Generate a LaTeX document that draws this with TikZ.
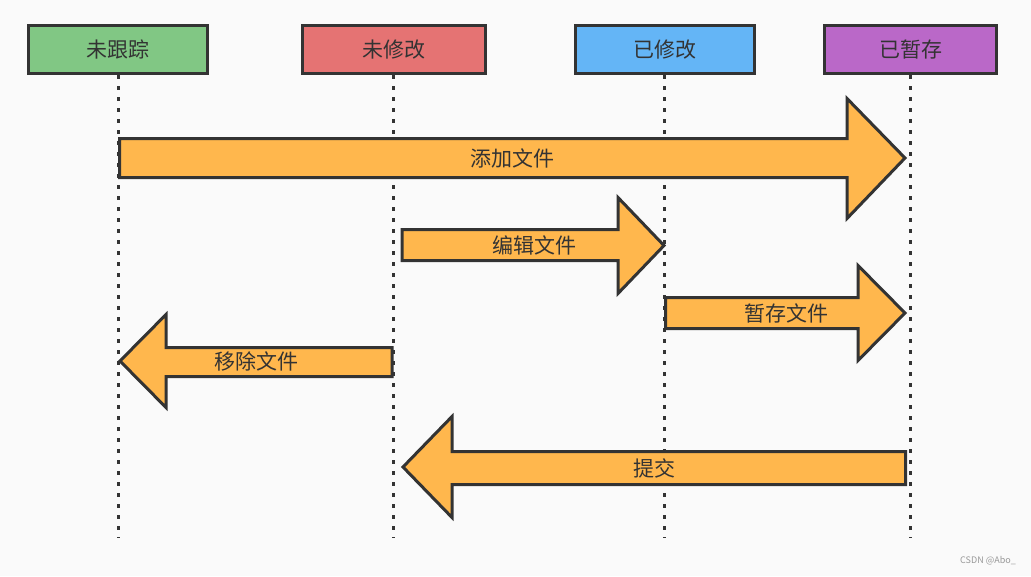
\documentclass[tikz,border=0pt]{standalone}
\usepackage{fontspec}
\setmainfont{Noto Sans CJK SC}
\definecolor{bg}{HTML}{FAFAFA}
\definecolor{edge}{HTML}{333333}
\definecolor{cgreen}{HTML}{81C784}
\definecolor{cred}{HTML}{E57373}
\definecolor{cblue}{HTML}{64B5F6}
\definecolor{cpurple}{HTML}{BA68C8}
\definecolor{corange}{HTML}{FFB74D}
\definecolor{wm}{HTML}{999999}
\tikzset{
  state/.style={draw=edge, line width=3pt, minimum height=48pt, inner sep=0pt,
    font=\fontsize{21}{21}\selectfont, text=edge},
  life/.style={draw=edge, line width=3pt, dash pattern=on 4pt off 7pt},
  blockarrow/.style={draw=edge, fill=corange, line width=3pt, line join=miter},
  lbl/.style={font=\fontsize{21}{21}\selectfont, text=edge, inner sep=0pt},
}
\begin{document}
\begin{tikzpicture}[x=1pt,y=-1pt]
\fill[bg] (0,0) rectangle (1031,576);
\useasboundingbox (0,0) rectangle (1031,576);
% state boxes
\node[state, fill=cgreen, minimum width=179pt] (b1) at (118,49.5) {未跟踪};
\node[state, fill=cred, minimum width=183pt] (b2) at (394,49.5) {未修改};
\node[state, fill=cblue, minimum width=179pt] (b3) at (665,49.5) {已修改};
\node[state, fill=cpurple, minimum width=172pt] (b4) at (910.5,49.5) {已暂存};
% lifeline ends
\coordinate (e1) at (118,538);
\coordinate (e2) at (393,538);
\coordinate (e3) at (664.5,538);
\coordinate (e4) at (910,538);
\draw[life] (b1.south -| e1) -- (e1);
\draw[life] (b2.south -| e2) -- (e2);
\draw[life] (b3.south -| e3) -- (e3);
\draw[life] (b4.south -| e4) -- (e4);
% block arrows
\draw[blockarrow] (119.5,138.5) -- (847,138.5) -- (847,98.5) -- (905,158) -- (847,218.5) -- (847,177.5) -- (119.5,177.5) -- cycle;
\draw[blockarrow] (402,229.5) -- (618,229.5) -- (618,197.5) -- (664,245.5) -- (618,293.5) -- (618,260.5) -- (402,260.5) -- cycle;
\draw[blockarrow] (665.5,297.5) -- (858,297.5) -- (858,265.5) -- (905,313) -- (858,360.5) -- (858,328.5) -- (665.5,328.5) -- cycle;
\draw[blockarrow] (392,347.5) -- (166,347.5) -- (166,314.5) -- (120,361) -- (166,407.5) -- (166,376.5) -- (392,376.5) -- cycle;
\draw[blockarrow] (905.5,451.5) -- (452,451.5) -- (452,416.5) -- (403,467) -- (452,517.5) -- (452,484.5) -- (905.5,484.5) -- cycle;
% labels
\node[lbl] (t1) at (512,158) {添加文件};
\node[lbl] (t2) at (534,245.5) {编辑文件};
\node[lbl] (t3) at (786,313) {暂存文件};
\node[lbl] (t4) at (256,361) {移除文件};
\node[lbl] (t5) at (654,468) {提交};
\node[font=\fontsize{9}{9}\selectfont, text=wm, inner sep=0pt, anchor=east] (wmk) at (1016,561) {CSDN @Abo\_};
\end{tikzpicture}
\end{document}
